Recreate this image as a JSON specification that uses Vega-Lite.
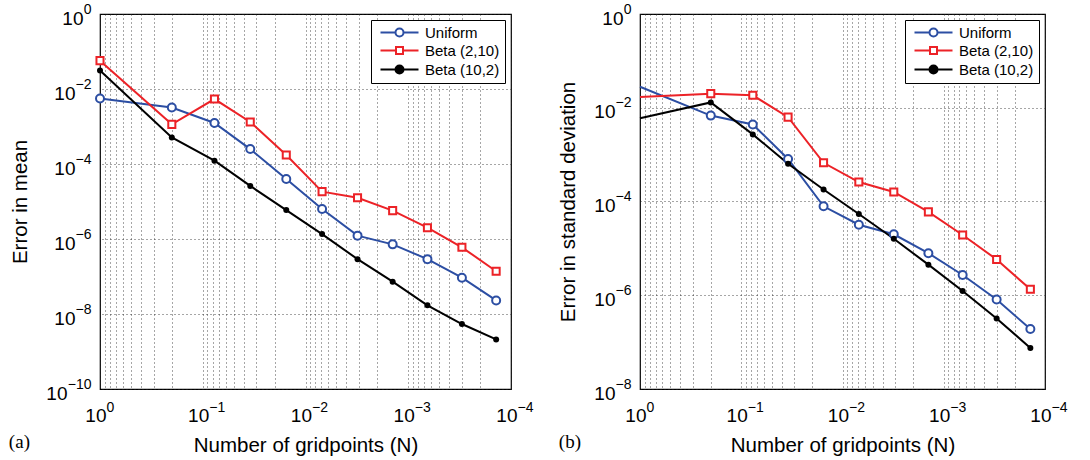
{
  "$schema": "https://vega.github.io/schema/vega-lite/v6.json",
  "background": "white",
  "padding": {"left": 8, "top": 1, "right": 5, "bottom": 0},
  "spacing": 24,
  "resolve": {"scale": {"color": "independent", "stroke": "independent", "fill": "independent", "shape": "independent"}, "legend": {"stroke": "independent", "fill": "independent", "shape": "independent"}},
  "config": {
    "font": "Liberation Sans",
    "view": {"stroke": "black", "strokeWidth": 1.2},
    "axis": {
      "labelFont": "Liberation Sans", "labelFontSize": 19, "labelColor": "black",
      "titleFont": "Liberation Sans", "titleFontSize": 20.5, "titleFontWeight": "normal", "titleColor": "black",
      "domain": false, "ticks": false, "labelFlush": false, "labelOverlap": false, "grid": false,
      "gridColor": "#222222", "gridDash": [1, 3], "gridWidth": 1, "gridOpacity": 0.8
    },
    "axisX": {"titlePadding": 10},
    "axisY": {"titlePadding": 15},
    "legend": {"symbolOpacity": 1, "orient": "top-right", "offset": 6, "strokeColor": "black", "fillColor": "white", "padding": 5, "labelFontSize": 15, "labelFont": "Liberation Sans", "labelColor": "black", "labelOffset": 34, "rowPadding": 2, "symbolStrokeWidth": 2}
  },
  "datasets": {
    "a": [
      {"s": "Uniform", "x": 1, "y": 5.6e-3}, {"s": "Uniform", "x": 0.2, "y": 3.2e-3}, {"s": "Uniform", "x": 0.076923, "y": 1.24e-3}, {"s": "Uniform", "x": 0.034483, "y": 2.5e-4}, {"s": "Uniform", "x": 0.015385, "y": 4.0e-5}, {"s": "Uniform", "x": 0.0068966, "y": 6.3e-6}, {"s": "Uniform", "x": 0.0031153, "y": 1.23e-6}, {"s": "Uniform", "x": 0.0014184, "y": 7.2e-7}, {"s": "Uniform", "x": 0.00065062, "y": 2.9e-7}, {"s": "Uniform", "x": 0.00030039, "y": 9.3e-8}, {"s": "Uniform", "x": 0.00013949, "y": 2.3e-8},
      {"s": "Beta (2,10)", "x": 1, "y": 5.7e-2}, {"s": "Beta (2,10)", "x": 0.2, "y": 1.14e-3}, {"s": "Beta (2,10)", "x": 0.076923, "y": 5.4e-3}, {"s": "Beta (2,10)", "x": 0.034483, "y": 1.32e-3}, {"s": "Beta (2,10)", "x": 0.015385, "y": 1.74e-4}, {"s": "Beta (2,10)", "x": 0.0068966, "y": 1.83e-5}, {"s": "Beta (2,10)", "x": 0.0031153, "y": 1.26e-5}, {"s": "Beta (2,10)", "x": 0.0014184, "y": 5.7e-6}, {"s": "Beta (2,10)", "x": 0.00065062, "y": 2.0e-6}, {"s": "Beta (2,10)", "x": 0.00030039, "y": 6.0e-7}, {"s": "Beta (2,10)", "x": 0.00013949, "y": 1.38e-7},
      {"s": "Beta (10,2)", "x": 1, "y": 3.1e-2}, {"s": "Beta (10,2)", "x": 0.2, "y": 5.1e-4}, {"s": "Beta (10,2)", "x": 0.076923, "y": 1.23e-4}, {"s": "Beta (10,2)", "x": 0.034483, "y": 2.6e-5}, {"s": "Beta (10,2)", "x": 0.015385, "y": 5.9e-6}, {"s": "Beta (10,2)", "x": 0.0068966, "y": 1.35e-6}, {"s": "Beta (10,2)", "x": 0.0031153, "y": 2.9e-7}, {"s": "Beta (10,2)", "x": 0.0014184, "y": 7.3e-8}, {"s": "Beta (10,2)", "x": 0.00065062, "y": 1.7e-8}, {"s": "Beta (10,2)", "x": 0.00030039, "y": 5.4e-9}, {"s": "Beta (10,2)", "x": 0.00013949, "y": 2.1e-9}
    ],
    "b": [
      {"s": "Uniform", "x": 1, "y": 2.8e-2}, {"s": "Uniform", "x": 0.2, "y": 6.8e-3}, {"s": "Uniform", "x": 0.076923, "y": 4.4e-3}, {"s": "Uniform", "x": 0.034483, "y": 8.1e-4}, {"s": "Uniform", "x": 0.015385, "y": 7.9e-5}, {"s": "Uniform", "x": 0.0068966, "y": 3.2e-5}, {"s": "Uniform", "x": 0.0031153, "y": 2.0e-5}, {"s": "Uniform", "x": 0.0014184, "y": 7.9e-6}, {"s": "Uniform", "x": 0.00065062, "y": 2.7e-6}, {"s": "Uniform", "x": 0.00030039, "y": 8.1e-7}, {"s": "Uniform", "x": 0.00013949, "y": 1.9e-7},
      {"s": "Beta (2,10)", "x": 1, "y": 1.7e-2}, {"s": "Beta (2,10)", "x": 0.2, "y": 2.0e-2}, {"s": "Beta (2,10)", "x": 0.076923, "y": 1.84e-2}, {"s": "Beta (2,10)", "x": 0.034483, "y": 6.3e-3}, {"s": "Beta (2,10)", "x": 0.015385, "y": 6.7e-4}, {"s": "Beta (2,10)", "x": 0.0068966, "y": 2.6e-4}, {"s": "Beta (2,10)", "x": 0.0031153, "y": 1.6e-4}, {"s": "Beta (2,10)", "x": 0.0014184, "y": 6.0e-5}, {"s": "Beta (2,10)", "x": 0.00065062, "y": 1.93e-5}, {"s": "Beta (2,10)", "x": 0.00030039, "y": 5.8e-6}, {"s": "Beta (2,10)", "x": 0.00013949, "y": 1.34e-6},
      {"s": "Beta (10,2)", "x": 1, "y": 6.0e-3}, {"s": "Beta (10,2)", "x": 0.2, "y": 1.3e-2}, {"s": "Beta (10,2)", "x": 0.076923, "y": 2.7e-3}, {"s": "Beta (10,2)", "x": 0.034483, "y": 6.4e-4}, {"s": "Beta (10,2)", "x": 0.015385, "y": 1.8e-4}, {"s": "Beta (10,2)", "x": 0.0068966, "y": 5.4e-5}, {"s": "Beta (10,2)", "x": 0.0031153, "y": 1.6e-5}, {"s": "Beta (10,2)", "x": 0.0014184, "y": 4.5e-6}, {"s": "Beta (10,2)", "x": 0.00065062, "y": 1.23e-6}, {"s": "Beta (10,2)", "x": 0.00030039, "y": 3.2e-7}, {"s": "Beta (10,2)", "x": 0.00013949, "y": 7.5e-8}
    ]
  },
  "hconcat": [
    {
      "width": 411, "height": 375,
      "data": {"name": "a"},
      "title": {"text": "(a)", "orient": "bottom", "anchor": "start", "frame": "bounds", "font": "Liberation Serif", "fontSize": 19, "fontWeight": "normal", "color": "black", "dy": -27, "dx": -2},
      "resolve": {"axis": {"x": "independent", "y": "independent"}},
      "layer": [
        {
          "mark": {"type": "point", "filled": false, "opacity": 0, "size": 100, "strokeWidth": 2},
          "encoding": {
            "x": {"field": "x", "type": "quantitative", "scale": {"type": "log", "domain": [0.0001, 1], "reverse": true}, "axis": null},
            "y": {"field": "y", "type": "quantitative", "scale": {"type": "log", "domain": [1e-10, 1]},
              "axis": {"orient": "left", "title": null, "values": [1], "labelExpr": "'10'", "labelPadding": 17, "labelOffset": 4}},
            "stroke": {"field": "s", "type": "nominal", "scale": {"domain": ["Uniform", "Beta (2,10)", "Beta (10,2)"], "range": ["#2c4ea3", "#ec2227", "#000000"]}, "legend": {"title": null}},
            "fill": {"field": "s", "type": "nominal", "scale": {"domain": ["Uniform", "Beta (2,10)", "Beta (10,2)"], "range": ["#ffffff", "#ffffff", "#000000"]}, "legend": {"title": null}},
            "shape": {"field": "s", "type": "nominal", "scale": {"domain": ["Uniform", "Beta (2,10)", "Beta (10,2)"], "range": ["M-0.6,0H2.4M4,0H7M2.4,0A0.8,0.8 0 1,1 4,0A0.8,0.8 0 1,1 2.4,0Z", "M-0.6,0H2.5M3.9,0H7M2.5,-0.7H3.9V0.7H2.5Z", "M-0.6,0H2.4M4,0H7M2.4,0A0.8,0.8 0 1,1 4,0A0.8,0.8 0 1,1 2.4,0Z"]}, "legend": {"title": null}}
          }
        },
        {
          "mark": {"type": "line", "strokeWidth": 2},
          "encoding": {
            "x": {"field": "x", "type": "quantitative", "scale": {"type": "log", "domain": [0.0001, 1], "reverse": true},
              "axis": {"orient": "bottom", "title": "Number of gridpoints (N)", "grid": true, "labelAlign": "right", "labelPadding": 17, "labelOffset": 6,
                "values": [1, 0.9, 0.8, 0.7, 0.6, 0.5, 0.4, 0.3, 0.2, 0.1, 0.09, 0.08, 0.07, 0.06, 0.05, 0.04, 0.03, 0.02, 0.01, 0.009, 0.008, 0.007, 0.006, 0.005, 0.004, 0.003, 0.002, 0.001, 0.0009, 0.0008, 0.0007, 0.0006, 0.0005, 0.0004, 0.0003, 0.0002, 0.0001],
                "labelExpr": "indexof([1, 0.1, 0.01, 0.001, 0.0001], datum.value) >= 0 ? '10' : ''"}},
            "y": {"field": "y", "type": "quantitative", "scale": {"type": "log", "domain": [1e-10, 1]},
              "axis": {"orient": "left", "title": null, "grid": true, "values": [1, 0.01, 0.0001, 1e-6, 1e-8, 1e-10], "labelPadding": 25, "labelOffset": 4,
                "labelExpr": "indexof([0.01, 0.0001, 1e-6, 1e-8], datum.value) >= 0 ? '10' : ''"}},
            "color": {"field": "s", "type": "nominal", "scale": {"domain": ["Uniform", "Beta (2,10)", "Beta (10,2)"], "range": ["#2c4ea3", "#ec2227", "#000000"]}, "legend": null}
          }
        },
        {
          "transform": [{"filter": "datum.s == 'Uniform'"}],
          "mark": {"type": "point", "shape": "circle", "filled": false, "fill": "#ffffff", "stroke": "#2c4ea3", "strokeWidth": 2, "size": 64, "opacity": 1},
          "encoding": {
            "x": {"field": "x", "type": "quantitative", "scale": {"type": "log", "domain": [0.0001, 1], "reverse": true},
              "axis": {"orient": "bottom", "title": null, "labelAlign": "left", "labelFontSize": 14, "labelPadding": 11, "labelOffset": 6, "values": [1, 0.1, 0.01, 0.001, 0.0001],
                "labelExpr": "datum.value == 1 ? '0' : datum.value == 0.1 ? '−1' : datum.value == 0.01 ? '−2' : datum.value == 0.001 ? '−3' : '−4'"}},
            "y": {"field": "y", "type": "quantitative", "scale": {"type": "log", "domain": [1e-10, 1]},
              "axis": {"orient": "left", "title": null, "labelFontSize": 14, "labelPadding": 9, "labelOffset": -5, "values": [1, 0.01, 0.0001, 1e-6, 1e-8, 1e-10],
                "labelExpr": "datum.value == 1 ? '0' : datum.value == 0.01 ? '−2' : datum.value == 0.0001 ? '−4' : datum.value == 1e-6 ? '−6' : datum.value == 1e-8 ? '−8' : '−10'"}}
          }
        },
        {
          "transform": [{"filter": "datum.s == 'Beta (2,10)'"}],
          "mark": {"type": "point", "shape": "square", "filled": false, "fill": "#ffffff", "stroke": "#ec2227", "strokeWidth": 2, "size": 50, "opacity": 1},
          "encoding": {
            "x": {"field": "x", "type": "quantitative", "scale": {"type": "log", "domain": [0.0001, 1], "reverse": true}, "axis": null},
            "y": {"field": "y", "type": "quantitative", "scale": {"type": "log", "domain": [1e-10, 1]},
              "axis": {"orient": "left", "title": "Error in mean", "values": [1e-10], "labelExpr": "'10'", "labelPadding": 33, "labelOffset": 4}}
          }
        },
        {
          "transform": [{"filter": "datum.s == 'Beta (10,2)'"}],
          "mark": {"type": "point", "shape": "circle", "filled": true, "color": "#000000", "size": 36, "opacity": 1},
          "encoding": {
            "x": {"field": "x", "type": "quantitative", "scale": {"type": "log", "domain": [0.0001, 1], "reverse": true}, "axis": null},
            "y": {"field": "y", "type": "quantitative", "scale": {"type": "log", "domain": [1e-10, 1]}, "axis": null}
          }
        }
      ]
    },
    {
      "width": 405, "height": 375,
      "data": {"name": "b"},
      "title": {"text": "(b)", "orient": "bottom", "anchor": "start", "frame": "bounds", "font": "Liberation Serif", "fontSize": 19, "fontWeight": "normal", "color": "black", "dy": -27, "dx": 0},
      "resolve": {"axis": {"x": "independent", "y": "independent"}},
      "layer": [
        {
          "mark": {"type": "point", "filled": false, "opacity": 0, "size": 100, "strokeWidth": 2},
          "encoding": {
            "x": {"field": "x", "type": "quantitative", "scale": {"type": "log", "domain": [0.0001, 1], "reverse": true}, "axis": null},
            "y": {"field": "y", "type": "quantitative", "scale": {"type": "log", "domain": [1e-8, 1]},
              "axis": {"orient": "left", "title": null, "values": [1], "labelExpr": "'10'", "labelPadding": 17, "labelOffset": 4}},
            "stroke": {"field": "s", "type": "nominal", "scale": {"domain": ["Uniform", "Beta (2,10)", "Beta (10,2)"], "range": ["#2c4ea3", "#ec2227", "#000000"]}, "legend": {"title": null}},
            "fill": {"field": "s", "type": "nominal", "scale": {"domain": ["Uniform", "Beta (2,10)", "Beta (10,2)"], "range": ["#ffffff", "#ffffff", "#000000"]}, "legend": {"title": null}},
            "shape": {"field": "s", "type": "nominal", "scale": {"domain": ["Uniform", "Beta (2,10)", "Beta (10,2)"], "range": ["M-0.6,0H2.4M4,0H7M2.4,0A0.8,0.8 0 1,1 4,0A0.8,0.8 0 1,1 2.4,0Z", "M-0.6,0H2.5M3.9,0H7M2.5,-0.7H3.9V0.7H2.5Z", "M-0.6,0H2.4M4,0H7M2.4,0A0.8,0.8 0 1,1 4,0A0.8,0.8 0 1,1 2.4,0Z"]}, "legend": {"title": null}}
          }
        },
        {
          "mark": {"type": "line", "strokeWidth": 2},
          "encoding": {
            "x": {"field": "x", "type": "quantitative", "scale": {"type": "log", "domain": [0.0001, 1], "reverse": true},
              "axis": {"orient": "bottom", "title": "Number of gridpoints (N)", "grid": true, "labelAlign": "right", "labelPadding": 17, "labelOffset": 6,
                "values": [1, 0.9, 0.8, 0.7, 0.6, 0.5, 0.4, 0.3, 0.2, 0.1, 0.09, 0.08, 0.07, 0.06, 0.05, 0.04, 0.03, 0.02, 0.01, 0.009, 0.008, 0.007, 0.006, 0.005, 0.004, 0.003, 0.002, 0.001, 0.0009, 0.0008, 0.0007, 0.0006, 0.0005, 0.0004, 0.0003, 0.0002, 0.0001],
                "labelExpr": "indexof([1, 0.1, 0.01, 0.001, 0.0001], datum.value) >= 0 ? '10' : ''"}},
            "y": {"field": "y", "type": "quantitative", "scale": {"type": "log", "domain": [1e-8, 1]},
              "axis": {"orient": "left", "title": "Error in standard deviation", "grid": true, "values": [1, 0.01, 0.0001, 1e-6, 1e-8], "labelPadding": 25, "labelOffset": 4,
                "labelExpr": "indexof([0.01, 0.0001, 1e-6, 1e-8], datum.value) >= 0 ? '10' : ''"}},
            "color": {"field": "s", "type": "nominal", "scale": {"domain": ["Uniform", "Beta (2,10)", "Beta (10,2)"], "range": ["#2c4ea3", "#ec2227", "#000000"]}, "legend": null}
          }
        },
        {
          "transform": [{"filter": "datum.s == 'Uniform' && datum.x < 1"}],
          "mark": {"type": "point", "shape": "circle", "filled": false, "fill": "#ffffff", "stroke": "#2c4ea3", "strokeWidth": 2, "size": 64, "opacity": 1},
          "encoding": {
            "x": {"field": "x", "type": "quantitative", "scale": {"type": "log", "domain": [0.0001, 1], "reverse": true},
              "axis": {"orient": "bottom", "title": null, "labelAlign": "left", "labelFontSize": 14, "labelPadding": 11, "labelOffset": 6, "values": [1, 0.1, 0.01, 0.001, 0.0001],
                "labelExpr": "datum.value == 1 ? '0' : datum.value == 0.1 ? '−1' : datum.value == 0.01 ? '−2' : datum.value == 0.001 ? '−3' : '−4'"}},
            "y": {"field": "y", "type": "quantitative", "scale": {"type": "log", "domain": [1e-8, 1]},
              "axis": {"orient": "left", "title": null, "labelFontSize": 14, "labelPadding": 9, "labelOffset": -5, "values": [1, 0.01, 0.0001, 1e-6, 1e-8],
                "labelExpr": "datum.value == 1 ? '0' : datum.value == 0.01 ? '−2' : datum.value == 0.0001 ? '−4' : datum.value == 1e-6 ? '−6' : '−8'"}}
          }
        },
        {
          "transform": [{"filter": "datum.s == 'Beta (2,10)' && datum.x < 1"}],
          "mark": {"type": "point", "shape": "square", "filled": false, "fill": "#ffffff", "stroke": "#ec2227", "strokeWidth": 2, "size": 50, "opacity": 1},
          "encoding": {
            "x": {"field": "x", "type": "quantitative", "scale": {"type": "log", "domain": [0.0001, 1], "reverse": true}, "axis": null},
            "y": {"field": "y", "type": "quantitative", "scale": {"type": "log", "domain": [1e-8, 1]}, "axis": null}
          }
        },
        {
          "transform": [{"filter": "datum.s == 'Beta (10,2)' && datum.x < 1"}],
          "mark": {"type": "point", "shape": "circle", "filled": true, "color": "#000000", "size": 36, "opacity": 1},
          "encoding": {
            "x": {"field": "x", "type": "quantitative", "scale": {"type": "log", "domain": [0.0001, 1], "reverse": true}, "axis": null},
            "y": {"field": "y", "type": "quantitative", "scale": {"type": "log", "domain": [1e-8, 1]}, "axis": null}
          }
        }
      ]
    }
  ]
}
